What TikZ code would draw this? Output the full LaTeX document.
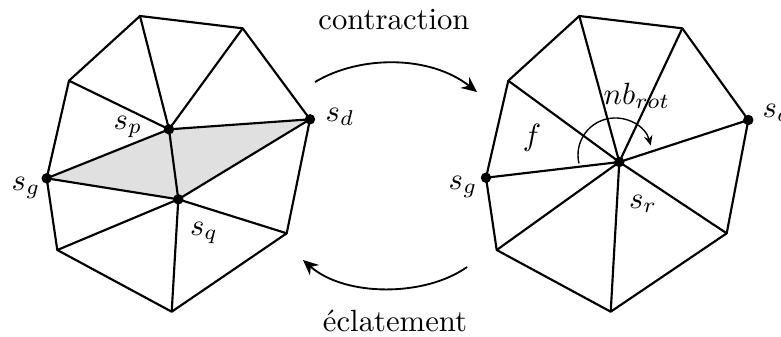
\documentclass[tikz,border=0pt]{standalone}
\usetikzlibrary{arrows.meta,calc}
\begin{document}
\begin{tikzpicture}[x=0.3257pt,y=-0.3257pt,
  edge/.style={line width=0.7pt,line join=round},
  dot/.style={circle,fill=black,inner sep=0pt,minimum size=3.4pt},
  lbl/.style={inner sep=0pt},
  bigarrow/.style={line width=0.6pt,-{Stealth[length=5pt,width=4.5pt]}},
  rotarrow/.style={line width=0.45pt,-{Stealth[length=3.2pt,width=2.8pt]}}]
\useasboundingbox (0,0) rectangle (781,336);
% left mesh vertices
\coordinate (A) at (140,16);
\coordinate (B) at (242.7,28.3);
\coordinate (Sd) at (310,119.3);
\coordinate (C) at (286.7,233.3);
\coordinate (D) at (171.7,311.7);
\coordinate (E) at (57.3,250);
\coordinate (Sg) at (46.7,178.3);
\coordinate (F) at (69,80.7);
\coordinate (Sp) at (169,129.3);
\coordinate (Sq) at (178.3,199.3);
% right mesh vertices
\coordinate (A2) at (579.3,16);
\coordinate (B2) at (682.3,28.3);
\coordinate (Sd2) at (748.3,120);
\coordinate (C2) at (726.7,233.3);
\coordinate (D2) at (610.7,311.7);
\coordinate (E2) at (496.7,250);
\coordinate (Sg2) at (486,177.7);
\coordinate (F2) at (508.3,80.7);
\coordinate (Sr) at (619.3,162);
% shaded quad
\fill[black!12] (Sg) -- (Sp) -- (Sd) -- (Sq) -- cycle;
% left mesh
\draw[edge] (A) -- (B) -- (Sd) -- (C) -- (D) -- (E) -- (Sg) -- (F) -- cycle;
\draw[edge] (Sp) -- (A) (Sp) -- (B) (Sp) -- (F) (Sp) -- (Sg) (Sp) -- (Sd) (Sp) -- (Sq);
\draw[edge] (Sq) -- (Sg) (Sq) -- (Sd) (Sq) -- (C) (Sq) -- (D) (Sq) -- (E);
\node[dot] (dSp) at (Sp) {};
\node[dot] (dSq) at (Sq) {};
\node[dot] (dSg) at (Sg) {};
\node[dot] (dSd) at (Sd) {};
% right mesh
\draw[edge] (A2) -- (B2) -- (Sd2) -- (C2) -- (D2) -- (E2) -- (Sg2) -- (F2) -- cycle;
\foreach \v in {A2,B2,Sd2,C2,D2,E2,Sg2,F2} \draw[edge] (Sr) -- (\v);
\node[dot] (dSr) at (Sr) {};
\node[dot] (dSg2) at (Sg2) {};
\node[dot] (dSd2) at (Sd2) {};
\draw[rotarrow] ($(615,155)+(167:37)$) arc[start angle=167,end angle=345,radius=37];
% labels
\node[lbl] (lsp) at (128,127) {$s_p$};
\node[lbl] (lsg) at (26,188) {$s_g$};
\node[lbl] (lsq) at (204,233) {$s_q$};
\node[lbl] (lsd) at (340,117) {$s_d$};
\node[lbl] (lnb) at (637,96) {$nb_{rot}$};
\node[lbl] (lf) at (532,138) {$f$};
\node[lbl] (lsg2) at (463,187) {$s_g$};
\node[lbl] (lsr) at (643,204) {$s_r$};
\node[lbl,anchor=west] (lsd2) at (762,113) {$s_d$};
\node[lbl] (tc) at (394,20) {contraction};
\node[lbl] (te) at (395,321) {éclatement};
% transformation arrows
\coordinate (t1) at (315,82);
\coordinate (t2) at (477,92);
\coordinate (b1) at (467,267);
\coordinate (b2) at (303,260);
\draw[bigarrow] (t1) .. controls (360,55) and (430,55) .. (t2);
\draw[bigarrow] (b1) .. controls (425,297) and (345,297) .. (b2);
\end{tikzpicture}
\end{document}
